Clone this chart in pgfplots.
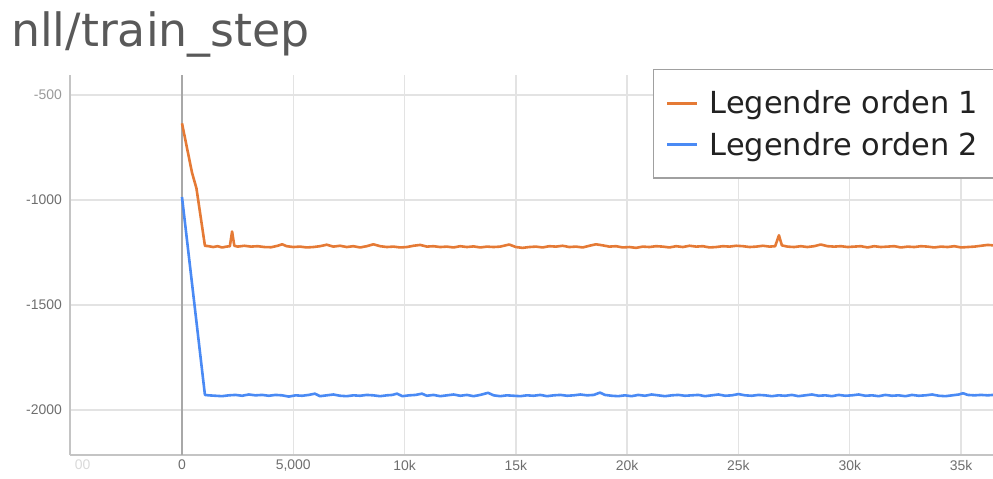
\documentclass[border=0pt]{standalone}
\usepackage{pgfplots}
\pgfplotsset{compat=1.18}
\usepackage{fontspec}
\setmainfont{DejaVu Sans}
\newfontfamily\tickfont{Liberation Sans}
\definecolor{ordA}{HTML}{E57A35}
\definecolor{ordB}{HTML}{4A8AF4}
\definecolor{gridc}{HTML}{E3E3E3}
\definecolor{axc}{HTML}{C4C4C4}
\definecolor{zeroc}{HTML}{A8A8A8}
\definecolor{tickc}{HTML}{6E6E6E}
\definecolor{titlec}{HTML}{595959}
\definecolor{legc}{HTML}{A0A0A0}
\definecolor{legtext}{HTML}{222222}
\begin{document}
\begin{tikzpicture}[x=1bp,y=1bp]
\path[use as bounding box] (0,0) rectangle (993,479);
\node[anchor=base west, inner sep=0, font=\fontsize{46}{50}\selectfont, text=titlec] at (11,432) {nll/train\_step};
\begin{axis}[
  at={(70bp,24bp)}, anchor=south west,
  scale only axis, width=923bp, height=380bp,
  xmin=-5032, xmax=36437, ymin=-2214, ymax=-405,
  xtick={-5000,0,5000,10000,15000,20000,25000,30000,35000},
  xticklabels={{\hspace*{24bp}\textcolor{black!15}{00}},0,{5,000},10k,15k,20k,25k,30k,35k},
  ytick={-2000,-1500,-1000,-500},
  yticklabels={-2000,-1500,-1000,{\textcolor{black!40}{-500}}},
  ticklabel style={font=\tickfont\fontsize{14}{16}\selectfont, text=tickc, inner sep=0pt},
  yticklabel style={anchor=east, xshift=-8bp},
  xticklabel style={anchor=north, yshift=-5bp},
  major tick length=0pt,
  grid=major,
  major grid style={gridc, line width=1.5bp},
  axis lines*=left,
  axis line style={axc, line width=1.8bp},
  clip=true,
  legend cell align=left,
  legend image code/.code={\draw[#1, line width=3bp] (0bp,0bp) -- (30bp,0bp);},
  legend style={at={(0.6316,1.0158)}, anchor=north west, draw=legc, line width=1.5bp, fill=white,
    inner xsep=12bp, inner ysep=18bp, row sep=11bp, column sep=8bp,
    nodes={inner sep=3bp, text=legtext, font=\fontsize{30.5}{36}\selectfont}},
]
\draw[zeroc, line width=1.8bp] (axis cs:0,-2214) -- (axis cs:0,-405);
\addplot[ordA, line width=2.6bp, line join=round] coordinates {
(0,-635) (450,-870) (650,-945) (1030,-1218)
(1200,-1220) (1400,-1224) (1600,-1220) (1800,-1226) (2000,-1222) (2150,-1220) (2250,-1150) (2350,-1218)
(2500,-1222) (2800,-1218) (3100,-1222) (3400,-1220) (3700,-1224) (4000,-1225) (4300,-1218) (4500,-1211)
(4700,-1220) (5000,-1224) (5300,-1222) (5600,-1226) (5900,-1224) (6200,-1220) (6500,-1213) (6800,-1222)
(7100,-1218) (7400,-1224) (7700,-1220) (8000,-1226) (8300,-1220) (8600,-1211) (8900,-1220) (9200,-1224)
(9500,-1222) (9800,-1226) (10100,-1224) (10400,-1218) (10700,-1214) (11000,-1222) (11300,-1220) (11600,-1224)
(11900,-1222) (12200,-1226) (12500,-1220) (12800,-1224) (13100,-1221) (13400,-1226) (13700,-1222) (14000,-1224)
(14300,-1222) (14700,-1212) (15000,-1224) (15300,-1228) (15600,-1224) (15900,-1222) (16200,-1226) (16500,-1220)
(16800,-1222) (17100,-1218) (17400,-1224) (17700,-1222) (18000,-1226) (18300,-1218) (18600,-1211) (18900,-1216)
(19200,-1222) (19500,-1220) (19800,-1226) (20100,-1224) (20400,-1228) (20700,-1222) (21000,-1224) (21300,-1220)
(21600,-1222) (21900,-1226) (22200,-1220) (22500,-1224) (22800,-1218) (23100,-1222) (23400,-1220) (23700,-1226)
(24000,-1224) (24300,-1220) (24600,-1222) (24900,-1218) (25200,-1220) (25500,-1224) (25800,-1222) (26100,-1218)
(26400,-1222) (26650,-1220) (26820,-1168) (26950,-1216) (27200,-1222) (27500,-1224) (27800,-1220) (28100,-1224)
(28400,-1220) (28700,-1212) (29000,-1220) (29300,-1222) (29600,-1220) (29900,-1224) (30200,-1222) (30500,-1220)
(30800,-1226) (31100,-1220) (31400,-1224) (31700,-1222) (32000,-1220) (32300,-1226) (32600,-1222) (32900,-1224)
(33200,-1220) (33500,-1222) (33800,-1226) (34100,-1222) (34400,-1224) (34700,-1220) (35000,-1226) (35300,-1224)
(35600,-1222) (35900,-1218) (36200,-1214) (36437,-1216)
};
\addlegendentry{Legendre orden 1}
\addplot[ordB, line width=2.6bp, line join=round] coordinates {
(0,-986) (1030,-1928)
(1200,-1930) (1500,-1932) (1800,-1934) (2100,-1930) (2400,-1928) (2700,-1932) (3000,-1926) (3300,-1930)
(3600,-1928) (3900,-1932) (4200,-1928) (4500,-1930) (4800,-1936) (5100,-1930) (5400,-1932) (5700,-1928)
(5970,-1922) (6200,-1934) (6500,-1930) (6800,-1926) (7100,-1932) (7400,-1934) (7700,-1930) (8000,-1932)
(8300,-1928) (8600,-1930) (8900,-1934) (9200,-1930) (9450,-1928) (9660,-1922) (9900,-1934) (10200,-1930)
(10500,-1928) (10780,-1922) (11000,-1932) (11300,-1928) (11600,-1934) (11900,-1930) (12200,-1926) (12500,-1932)
(12800,-1928) (13100,-1934) (13400,-1928) (13750,-1918) (14000,-1930) (14300,-1934) (14600,-1930) (14900,-1932)
(15200,-1934) (15500,-1930) (15800,-1932) (16100,-1928) (16400,-1934) (16700,-1930) (17000,-1928) (17300,-1932)
(17600,-1930) (17900,-1926) (18200,-1930) (18500,-1928) (18780,-1917) (19000,-1928) (19300,-1932) (19600,-1934)
(19900,-1930) (20200,-1934) (20500,-1928) (20800,-1932) (21100,-1926) (21400,-1930) (21700,-1934) (22000,-1930)
(22300,-1928) (22600,-1932) (22900,-1930) (23200,-1928) (23500,-1934) (23800,-1930) (24100,-1926) (24400,-1932)
(24700,-1930) (25000,-1924) (25300,-1930) (25600,-1932) (25900,-1928) (26200,-1930) (26500,-1934) (26800,-1930)
(27100,-1932) (27400,-1928) (27700,-1934) (28000,-1930) (28300,-1926) (28600,-1932) (28900,-1930) (29200,-1934)
(29500,-1928) (29800,-1932) (30100,-1930) (30400,-1926) (30700,-1932) (31000,-1930) (31300,-1934) (31600,-1928)
(31900,-1932) (32200,-1930) (32500,-1934) (32800,-1928) (33100,-1932) (33400,-1930) (33700,-1926) (34000,-1932)
(34300,-1934) (34600,-1930) (34900,-1926) (35090,-1920) (35300,-1928) (35600,-1930) (35900,-1928) (36200,-1930)
(36437,-1928)
};
\addlegendentry{Legendre orden 2}
\end{axis}
\end{tikzpicture}
\end{document}
